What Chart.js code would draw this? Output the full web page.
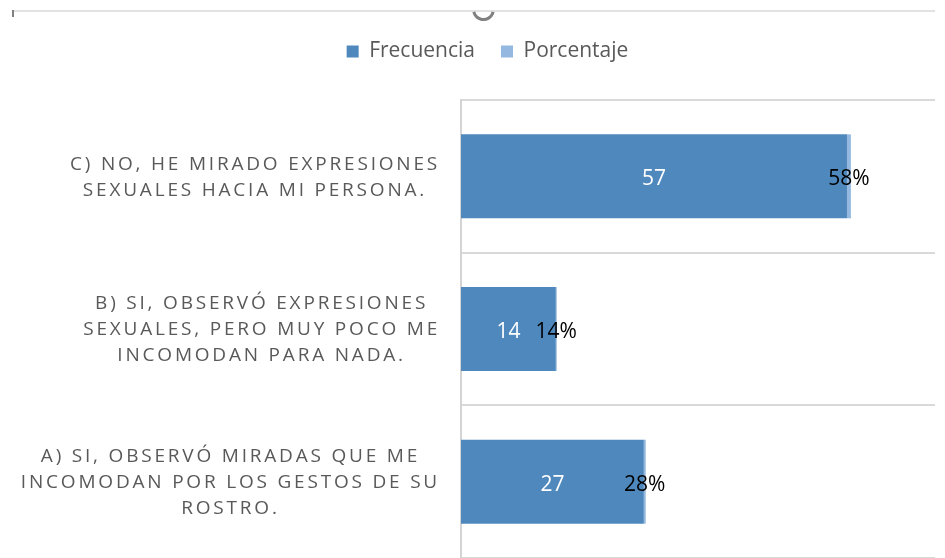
<!DOCTYPE html>
<html lang="es">
<head>
<meta charset="UTF-8">
<title>Frecuencia y porcentaje</title>
<script src="https://cdn.jsdelivr.net/npm/chart.js"></script>
<style>
  body { margin: 0; background: #fff; }
  .chart-box { position: relative; width: 945px; height: 558px; }
</style>
</head>
<body>
<div class="chart-box"><canvas id="chart"></canvas></div>
<script>
// data, bottom-to-top order as in the sheet (axis is reversed below)
const categories = [
  ['A) SI, OBSERVÓ MIRADAS QUE ME', 'INCOMODAN POR LOS GESTOS DE SU', 'ROSTRO.'],
  ['B) SI, OBSERVÓ EXPRESIONES', 'SEXUALES, PERO MUY POCO ME', 'INCOMODAN PARA NADA.'],
  ['C) NO, HE MIRADO EXPRESIONES', 'SEXUALES HACIA MI PERSONA.']
];
const frecuencia = [27, 14, 57];
const porcentaje = [0.28, 0.14, 0.58];

const FONT = '"Open Sans", sans-serif';

// selection frame bits at the very top of the screenshot
const frame = {
  id: 'frame',
  beforeDraw(chart) {
    const ctx = chart.ctx;
    ctx.save();
    ctx.strokeStyle = '#d9d9d9';
    ctx.lineWidth = 1.5;
    ctx.beginPath();
    ctx.moveTo(14, 11);
    ctx.lineTo(935, 11);
    ctx.stroke();
    ctx.strokeStyle = '#808080';
    ctx.lineWidth = 2;
    ctx.beginPath();
    ctx.moveTo(13, 10);
    ctx.lineTo(13, 17);
    ctx.stroke();
    ctx.lineWidth = 3;
    ctx.beginPath();
    ctx.arc(483.5, 9.5, 10, 0.08 * Math.PI, 0.92 * Math.PI);
    ctx.stroke();
    ctx.restore();
  }
};

// values drawn in the middle of each segment
const barLabels = {
  id: 'barLabels',
  afterDatasetsDraw(chart) {
    const ctx = chart.ctx;
    ctx.save();
    ctx.font = '21px ' + FONT;
    ctx.textAlign = 'center';
    ctx.textBaseline = 'middle';
    chart.data.datasets.forEach((ds, i) => {
      chart.getDatasetMeta(i).data.forEach((bar, j) => {
        const v = ds.data[j];
        ctx.fillStyle = i === 0 ? '#ffffff' : '#000000';
        ctx.fillText(i === 0 ? String(v) : Math.round(v * 100) + '%', (bar.x + bar.base) / 2, bar.y + 3);
      });
    });
    ctx.restore();
  }
};

// category labels with letter spacing (canvas ticks can't do that)
const catLabels = {
  id: 'catLabels',
  afterDraw(chart) {
    const ctx = chart.ctx, y = chart.scales.y;
    const right = chart.chartArea.left - 21;
    ctx.save();
    ctx.font = '19px ' + FONT;
    ctx.fillStyle = '#595959';
    ctx.letterSpacing = '2.8px';
    ctx.textAlign = 'center';
    ctx.textBaseline = 'middle';
    chart.data.labels.forEach((lines, i) => {
      const w = Math.max(...lines.map(l => ctx.measureText(l).width));
      const cx = right - w / 2;
      const cy = y.getPixelForValue(i) + 1;
      lines.forEach((l, k) => ctx.fillText(l, cx, cy + (k - (lines.length - 1) / 2) * 26));
    });
    ctx.restore();
  }
};

new Chart(document.getElementById('chart'), {
  type: 'bar',
  data: {
    labels: categories,
    datasets: [
      { label: 'Frecuencia', data: frecuencia, backgroundColor: '#4f88bd', borderWidth: 0,
        barPercentage: 0.55, categoryPercentage: 1 },
      { label: 'Porcentaje', data: porcentaje, backgroundColor: '#95b8e0', borderWidth: 0,
        barPercentage: 0.55, categoryPercentage: 1 }
    ]
  },
  options: {
    indexAxis: 'y',
    responsive: true,
    maintainAspectRatio: false,
    animation: false,
    events: [],
    layout: { padding: { top: 15, right: 10, left: 40, bottom: 0 } },
    plugins: {
      legend: {
        position: 'top',
        labels: { font: { family: FONT, size: 21 }, color: '#595959', boxWidth: 12, boxHeight: 12, padding: 26 }
      },
      tooltip: { enabled: false }
    },
    scales: {
      x: {
        position: 'top', stacked: true, min: 0, max: 70,
        ticks: { display: false }, grid: { display: false }, border: { display: false },
        afterFit(s) { s.height = 28; }
      },
      y: {
        stacked: true, reverse: true,
        ticks: { display: false },
        grid: { color: '#d9d9d9', lineWidth: 2, drawTicks: false },
        border: { color: '#d4d4d4', width: 2 },
        afterFit(s) { s.width = 421; }
      }
    }
  },
  plugins: [frame, barLabels, catLabels]
});
</script>
</body>
</html>
